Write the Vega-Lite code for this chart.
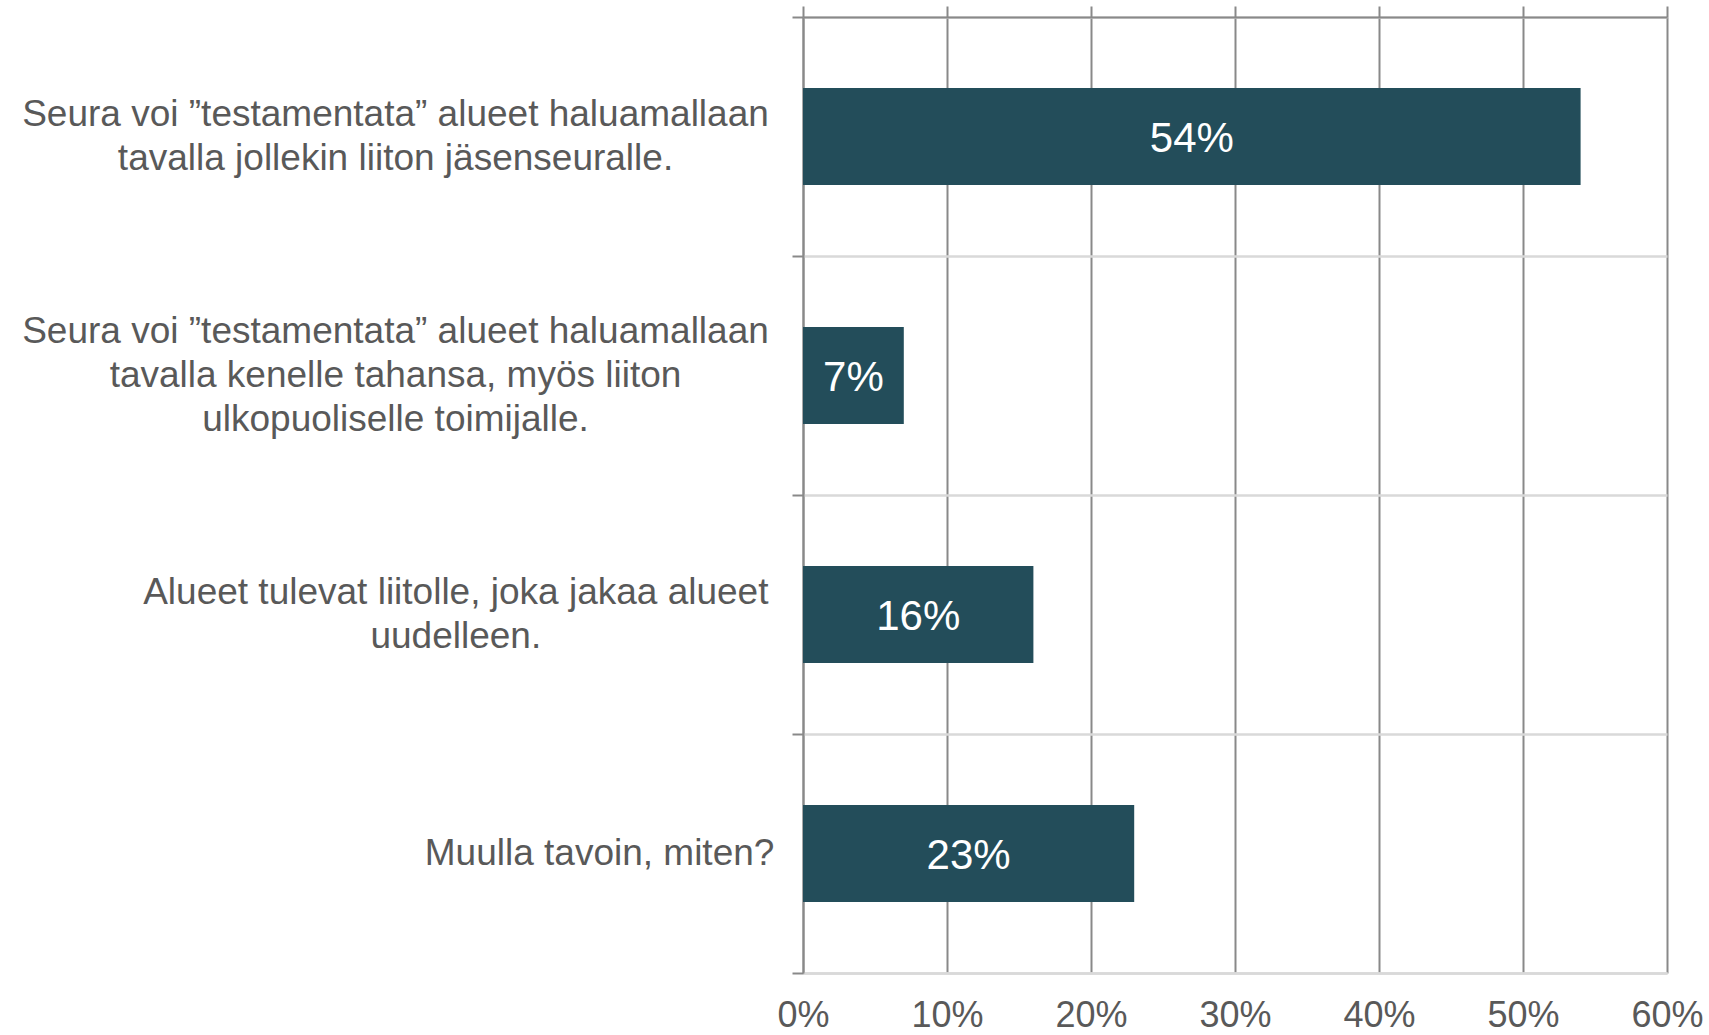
{
  "$schema": "https://vega.github.io/schema/vega-lite/v6.json",
  "autosize": {"type": "none"},
  "padding": {"left": 803, "top": 17, "right": 42, "bottom": 62},
  "width": 864,
  "height": 956,
  "background": "white",
  "config": {"view": {"stroke": null}, "font": "Liberation Sans"},
  "data": {"values": [
    {"label": "Seura voi ”testamentata” alueet haluamallaan|tavalla jollekin liiton jäsenseuralle.", "value": 0.54},
    {"label": "Seura voi ”testamentata” alueet haluamallaan|tavalla kenelle tahansa, myös liiton|ulkopuoliselle toimijalle.", "value": 0.07},
    {"label": "Alueet tulevat liitolle, joka jakaa alueet|uudelleen.", "value": 0.16},
    {"label": "Muulla tavoin, miten?", "value": 0.23}
  ]},
  "encoding": {
    "y": {
      "field": "label", "type": "nominal", "sort": null,
      "scale": {"paddingInner": 0, "paddingOuter": 0},
      "axis": {
        "title": null,
        "labelExpr": "split(datum.label, '|')",
        "labelFont": "Liberation Sans",
        "labelFontSize": 37,
        "labelColor": "#595959",
        "labelLineHeight": 43.6,
        "labelAlign": "center",
        "labelPadding": 22,
        "labelLimit": 1000,
        "tickBand": "extent",
        "ticks": true,
        "tickSize": 11,
        "tickColor": "#898989",
        "tickWidth": 2,
        "domainColor": "#898989",
        "domainWidth": 2,
        "grid": true,
        "gridColor": "#D9D9D9",
        "gridWidth": 2.5,
        "encoding": {
          "labels": {
            "dx": {"value": {"expr": "-0.5*37*(0.16*length(replace(split(datum.value,'|')[0], regexp('[^iljtfr ,.”]','g'), '')) + 0.65*length(replace(split(datum.value,'|')[0], regexp('[iljtfr ,.”]','g'), '')))"}},
            "dy": {"value": {"expr": "-0.5*43.6*(length(split(datum.value,'|'))-1)"}}
          }
        }
      }
    }
  },
  "layer": [
    {
      "mark": {"type": "bar", "color": "#234D5A", "height": {"band": 0.406}},
      "encoding": {
        "x": {
          "field": "value", "type": "quantitative",
          "scale": {"domain": [0, 0.6], "nice": false},
          "axis": {
            "orient": "bottom", "format": ".0%", "values": [0, 0.1, 0.2, 0.3, 0.4, 0.5, 0.6],
            "title": null, "ticks": false, "grid": false,
            "domainColor": "#D9D9D9", "domainWidth": 2.5,
            "labelFont": "Liberation Sans", "labelFontSize": 36, "labelColor": "#595959",
            "labelPadding": 25, "labelFlush": false
          }
        }
      }
    },
    {
      "mark": {"type": "text", "color": "white", "fontSize": 42, "font": "Liberation Sans", "dy": 2},
      "encoding": {
        "x": {
          "field": "value", "type": "quantitative", "stack": "zero", "bandPosition": 0.5,
          "axis": {
            "orient": "top", "labels": false, "title": null,
            "values": [0, 0.1, 0.2, 0.3, 0.4, 0.5, 0.6],
            "tickSize": 11, "tickColor": "#898989", "tickWidth": 2,
            "domainColor": "#898989", "domainWidth": 2,
            "grid": true, "gridColor": "#898989", "gridWidth": 2
          }
        },
        "text": {"field": "value", "type": "quantitative", "format": ".0%"}
      }
    }
  ],
  "resolve": {"axis": {"x": "independent"}}
}
